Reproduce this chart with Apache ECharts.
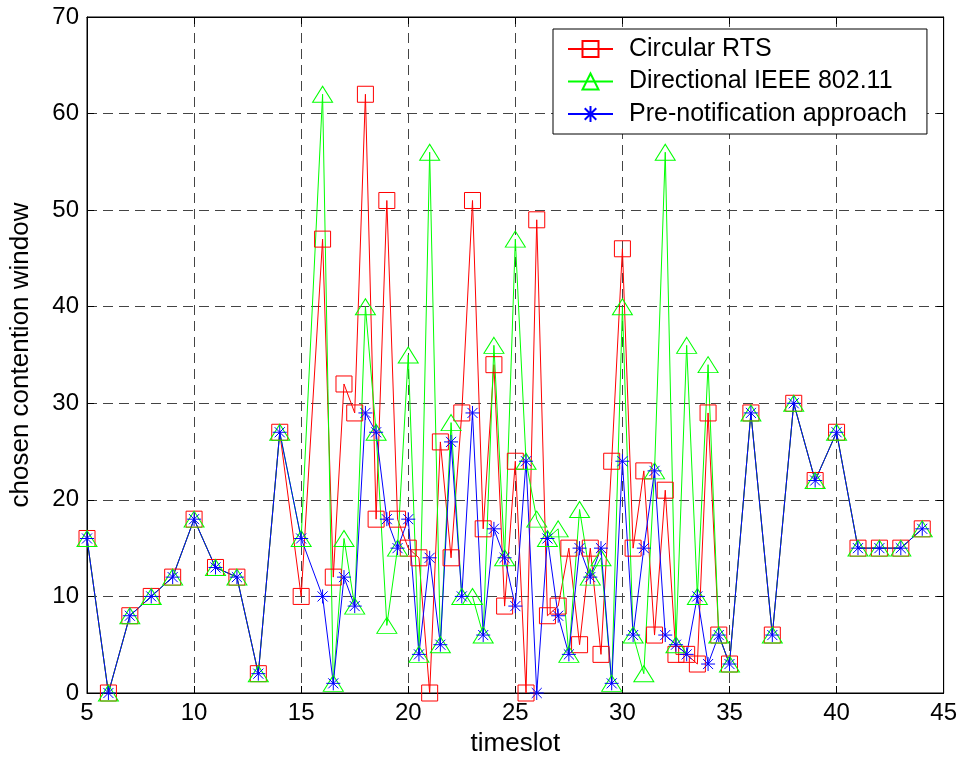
<!DOCTYPE html>
<html>
<head>
<meta charset="utf-8">
<script src="https://cdn.jsdelivr.net/npm/echarts@6/dist/echarts.min.js"></script>
<style>
html,body{margin:0;padding:0;background:#fff;}
#chart{width:960px;height:762px;}
</style>
</head>
<body>
<div id="chart"></div>
<script>
const timeslots = [5,6,7,8,9,10,11,12,13,14,15,
  16,16.5,17,17.5,18,18.5,19,19.5,20,20.5,21,21.5,22,22.5,23,23.5,24,24.5,25,25.5,
  26,26.5,27,27.5,28,28.5,29,29.5,30,30.5,31,31.5,32,32.5,33,33.5,34,34.5,35,
  36,37,38,39,40,41,42,43,44];
const circularRTS = [16,0,8,10,12,18,13,12,2,27,10,
  47,12,32,29,62,18,51,18,15,14,0,26,14,29,51,17,34,9,24,0,
  49,8,9,15,5,15,4,24,46,15,23,6,21,4,4,3,29,6,3,
  29,6,30,22,27,15,15,15,17];
const directional80211 = [16,0,8,10,12,18,13,12,2,27,16,
  62,1,16,9,40,27,7,15,35,4,56,5,28,10,10,6,36,14,47,24,
  18,16,17,4,19,12,14,1,40,6,2,23,56,5,36,10,34,6,3,
  29,6,30,22,27,15,15,15,17];
const preNotification = [16,0,8,10,12,18,13,12,2,27,16,
  10,1,12,9,29,27,18,15,18,4,14,5,26,10,29,6,17,14,9,24,
  0,16,8,4,15,12,15,1,24,6,15,23,6,5,4,10,3,6,3,
  29,6,30,22,27,15,15,15,17];
const seriesNames = ['Circular RTS','Directional IEEE 802.11','Pre-notification approach'];
const xTicks = [5,10,15,20,25,30,35,40,45];
const yTicks = [0,10,20,30,40,50,60,70];

function pairs(vals){ return timeslots.map((t,i)=>[t, vals[i]]); }

const SQUARE = 'path://M-1,-1L1,-1L1,1L-1,1Z';
const TRI = 'path://M0,-1L1,1L-1,1Z';
const STAR = 'path://M0,-1L0,1M-1,0L1,0M-0.72,-0.72L0.72,0.72M-0.72,0.72L0.72,-0.72';

const FONT = 'Liberation Sans, Arial, sans-serif';
const chart = echarts.init(document.getElementById('chart'), null, {renderer:'canvas'});

function mkSeries(name, vals, color, symbol, size){
  return {
    name: name, type: 'line', data: pairs(vals),
    symbol: symbol, symbolSize: size, symbolKeepAspect: false,
    showAllSymbol: true,
    lineStyle: {color: color, width: 1},
    itemStyle: {color: 'none', borderColor: color, borderWidth: 1},
    emphasis: {disabled: true},
    animation: false
  };
}

const option = {
  backgroundColor: '#fff',
  animation: false,
  grid: {left: 86, right: 16, top: 17, bottom: 69, show: true, borderColor: '#000', borderWidth: 1},
  legend: {
    orient: 'vertical', left: 553, top: 29,
    backgroundColor: '#fff', borderColor: '#000', borderWidth: 1,
    padding: [7, 20, 7, 14],
    itemWidth: 45, itemHeight: 20, itemGap: 6.5,
    textStyle: {fontFamily: FONT, fontSize: 25, color: '#000', lineHeight: 26, padding: [0,0,0,11]},
    data: seriesNames
  },
  xAxis: [{
    type: 'value', min: 5, max: 45, interval: 5,
    name: 'timeslot', nameLocation: 'middle', nameGap: 38,
    nameTextStyle: {fontFamily: FONT, fontSize: 26, color: '#000'},
    axisLine: {show: true, onZero: false, lineStyle: {color: '#000', width: 1}},
    axisTick: {show: true, inside: true, length: 7, lineStyle: {color: '#000'}},
    axisLabel: {fontFamily: FONT, fontSize: 24, color: '#000', margin: 8,
      formatter: v => xTicks.includes(v) ? String(v) : ''},
    splitLine: {show: true, lineStyle: {color: '#444', type: [10, 6], width: 1}}
  },{
    type: 'value', min: 5, max: 45, interval: 5, position: 'top',
    axisLine: {show: true, onZero: false, lineStyle: {color: '#000'}},
    axisTick: {show: true, inside: true, length: 7, lineStyle: {color: '#000'}},
    axisLabel: {show: false}, splitLine: {show: false}
  }],
  yAxis: [{
    type: 'value', min: 0, max: 70, interval: 10,
    name: 'chosen contention window', nameLocation: 'middle', nameGap: 53,
    nameTextStyle: {fontFamily: FONT, fontSize: 26, color: '#000'},
    axisLine: {show: true, onZero: false, lineStyle: {color: '#000', width: 1}},
    axisTick: {show: true, inside: true, length: 7, lineStyle: {color: '#000'}},
    axisLabel: {fontFamily: FONT, fontSize: 24, color: '#000', margin: 8,
      formatter: v => yTicks.includes(v) ? String(v) : ''},
    splitLine: {show: true, lineStyle: {color: '#444', type: [10, 6], width: 1}}
  },{
    type: 'value', min: 0, max: 70, interval: 10, position: 'right',
    axisLine: {show: true, onZero: false, lineStyle: {color: '#000'}},
    axisTick: {show: true, inside: true, length: 7, lineStyle: {color: '#000'}},
    axisLabel: {show: false}, splitLine: {show: false}
  }],
  series: [
    mkSeries(seriesNames[0], circularRTS, '#ff0000', SQUARE, 16),
    mkSeries(seriesNames[1], directional80211, '#00ff00', TRI, [20, 16]),
    mkSeries(seriesNames[2], preNotification, '#0000ff', STAR, 14)
  ]
};
chart.setOption(option);
</script>
</body>
</html>
